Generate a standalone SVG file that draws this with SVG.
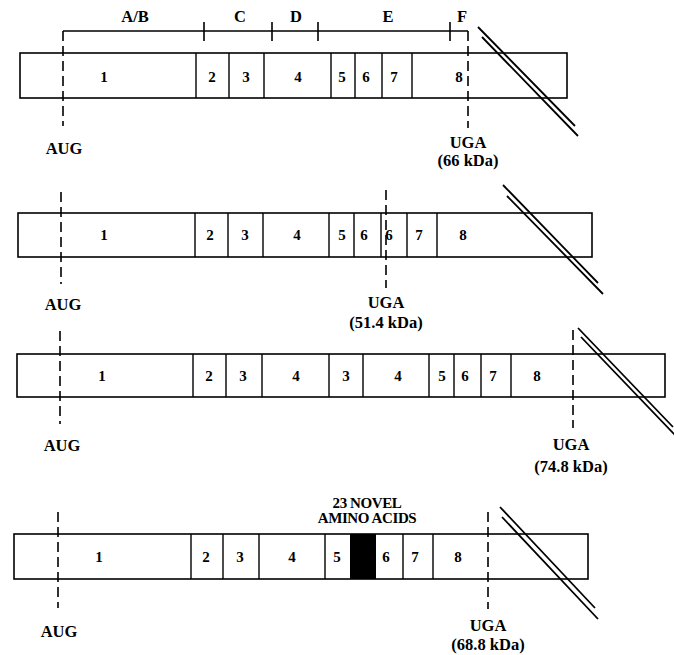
<svg xmlns="http://www.w3.org/2000/svg" width="674" height="655" viewBox="0 0 674 655">
<style>
.box{fill:#fff;stroke:#000;stroke-width:1.6}
.div{stroke:#000;stroke-width:1.4}
.num{font-family:"Liberation Serif",serif;font-weight:bold;font-size:15px;text-anchor:middle;fill:#000}
.lab{font-family:"Liberation Serif",serif;font-weight:bold;font-size:16.5px;text-anchor:middle;fill:#000}
.sm{font-family:"Liberation Serif",serif;font-weight:bold;font-size:15px;text-anchor:middle;fill:#000;letter-spacing:-0.4px}
.dash{stroke:#000;stroke-width:1.6;stroke-dasharray:10 5;fill:none}
.sl{stroke:#000;stroke-width:1.8;fill:none}
.br{stroke:#000;stroke-width:1.6;fill:none}
</style>
<rect width="674" height="655" fill="#fff"/>

<g id="row1">
<rect class="box" x="20" y="53" width="547" height="45"/>
<path class="div" d="M196,53V98M229,53V98M264,53V98M331,53V98M355,53V98M382,53V98M412,53V98"/>
<text class="num" x="104" y="82">1</text><text class="num" x="212" y="82">2</text><text class="num" x="246" y="82">3</text><text class="num" x="298" y="82">4</text><text class="num" x="342" y="82">5</text><text class="num" x="366" y="82">6</text><text class="num" x="394" y="82">7</text><text class="num" x="459" y="82">8</text>
</g>
<g id="domains">
<path class="br" d="M63,31H468M204,22V41M272,22V41M318,22V41M450,22V41"/>
<text class="lab" x="135" y="22">A/B</text><text class="lab" x="240" y="22">C</text><text class="lab" x="296" y="22">D</text><text class="lab" x="388" y="22">E</text><text class="lab" x="462" y="22">F</text>
</g>

<g id="row2">
<rect class="box" x="18" y="213" width="574" height="44"/>
<path class="div" d="M195,213V257M228,213V257M263,213V257M329,213V257M354,213V257M381,213V257M407,213V257M437,213V257"/>
<text class="num" x="104" y="240">1</text><text class="num" x="210" y="240">2</text><text class="num" x="245" y="240">3</text><text class="num" x="297" y="240">4</text><text class="num" x="342" y="240">5</text><text class="num" x="364" y="240">6</text><text class="num" x="389" y="240">6</text><text class="num" x="419" y="240">7</text><text class="num" x="463" y="240">8</text>
</g>

<g id="row3">
<rect class="box" x="17" y="354" width="648" height="43"/>
<path class="div" d="M193,354V397M226,354V397M262,354V397M329,354V397M363,354V397M429,354V397M454,354V397M481,354V397M511,354V397"/>
<text class="num" x="102" y="381">1</text><text class="num" x="209" y="381">2</text><text class="num" x="243" y="381">3</text><text class="num" x="296" y="381">4</text><text class="num" x="346" y="381">3</text><text class="num" x="398" y="381">4</text><text class="num" x="442" y="381">5</text><text class="num" x="465" y="381">6</text><text class="num" x="493" y="381">7</text><text class="num" x="537" y="381">8</text>
</g>

<g id="row4">
<rect class="box" x="14" y="534" width="574" height="45"/>
<rect x="350" y="534" width="26" height="45" fill="#000"/>
<path class="div" d="M191,534V579M223,534V579M259,534V579M325,534V579M403,534V579M433,534V579"/>
<text class="num" x="99" y="562">1</text><text class="num" x="206" y="562">2</text><text class="num" x="240" y="562">3</text><text class="num" x="292" y="562">4</text><text class="num" x="337" y="562">5</text><text class="num" x="386" y="562">6</text><text class="num" x="415" y="562">7</text><text class="num" x="458" y="562">8</text>
<text class="sm" x="367" y="508">23 NOVEL</text>
<text class="sm" x="367" y="523">AMINO ACIDS</text>
</g>

<g id="connectors">
<path class="dash" d="M63,31V126M468,31V128"/>
<path class="dash" d="M61,192V284M386,190V288"/>
<path class="dash" d="M60,331V424M573,330V428"/>
<path class="dash" d="M58,512V608M488,512V609"/>
<path class="sl" d="M478,27L575,126M482,37L578,136"/>
<path class="sl" d="M503,185L598,283M507,196L603,294"/>
<path class="sl" d="M578,328L673,427M581,337L675,435"/>
<path class="sl" d="M500,507L595,608M502,517L598,619"/>
</g>

<g id="labels">
<text class="lab" x="64" y="154">AUG</text>
<text class="lab" x="468" y="148">UGA</text><text class="lab" x="468" y="166">(66 kDa)</text>
<text class="lab" x="63" y="310">AUG</text>
<text class="lab" x="386" y="308">UGA</text><text class="lab" x="386" y="328">(51.4 kDa)</text>
<text class="lab" x="62" y="451">AUG</text>
<text class="lab" x="571" y="450">UGA</text><text class="lab" x="571" y="472">(74.8 kDa)</text>
<text class="lab" x="59" y="637">AUG</text>
<text class="lab" x="488" y="631">UGA</text><text class="lab" x="488" y="650">(68.8 kDa)</text>
</g>
</svg>
